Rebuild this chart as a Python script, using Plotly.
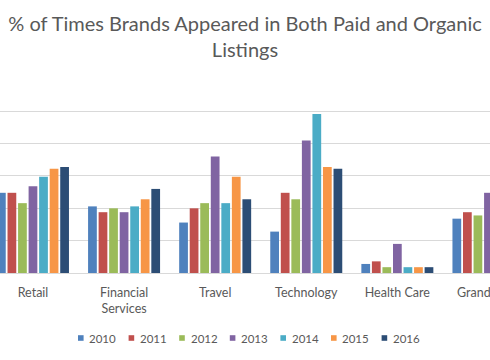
import plotly.graph_objects as go

categories = ["Retail", "Financial<br>Services", "Travel", "Technology", "Health Care", "Grand Total"]
years = ["2010", "2011", "2012", "2013", "2014", "2015", "2016"]

v2010 = [12.4, 10.3, 7.8, 6.4, 1.4, 8.4]
v2011 = [12.4, 9.4, 10.0, 12.4, 1.8, 9.4]
v2012 = [10.8, 10.0, 10.8, 11.4, 0.9, 8.9]
v2013 = [13.4, 9.4, 18.0, 20.5, 4.5, 12.4]
v2014 = [14.9, 10.3, 10.8, 24.6, 0.9, 11.5]
v2015 = [16.1, 11.4, 14.9, 16.4, 0.9, 12.0]
v2016 = [16.4, 13.0, 11.4, 16.1, 0.9, 12.4]

series = [v2010, v2011, v2012, v2013, v2014, v2015, v2016]
colors = ["#4F81BD", "#C0504D", "#9BBB59", "#8064A2", "#4BACC6", "#F79646", "#2C4D75"]

W, H = 490, 360
M_T, M_B = 78, 87
PLOT_H = H - M_T - M_B

fig = go.Figure()
for name, vals, col in zip(years, series, colors):
    fig.add_trace(go.Bar(x=categories, y=vals, name=name, showlegend=False,
                         marker=dict(color=col, line=dict(width=0))))

font = "Lato, 'Open Sans', sans-serif"

# Custom legend row (Excel-style: small square key right next to its label)
leg_y_px = 338
leg_first_px = 80.8
leg_pitch_px = 50.6
key_half = 2.8
annotations = []
shapes = []
for i, (name, col) in enumerate(zip(years, colors)):
    cx = leg_first_px + leg_pitch_px * i
    shapes.append(dict(type="rect", xref="paper", yref="paper",
                       x0=(cx - key_half) / W, x1=(cx + key_half) / W,
                       y0=(H - M_B - (leg_y_px + key_half)) / PLOT_H,
                       y1=(H - M_B - (leg_y_px - key_half)) / PLOT_H,
                       fillcolor=col, line=dict(width=0)))
    annotations.append(dict(text=name, xref="paper", yref="paper", showarrow=False,
                            x=(cx + 6.5) / W, xanchor="left",
                            y=(H - M_B - leg_y_px) / PLOT_H, yanchor="middle",
                            font=dict(family=font, size=11.5, color="#595959")))

fig.update_layout(
    width=W, height=H,
    margin=dict(l=0, r=0, t=M_T, b=M_B, autoexpand=False),
    paper_bgcolor="white", plot_bgcolor="white",
    barmode="group", bargap=0.19, bargroupgap=0.17,
    title=dict(text="% of Times Brands Appeared in Both Paid and Organic<br>Listings",
               x=0.5, xanchor="center", y=0.915, yanchor="top",
               font=dict(family=font, size=20, color="#595959")),
    font=dict(family=font, size=12.5, color="#595959"),
    xaxis=dict(range=[-0.362, 5.017], automargin=False, showgrid=False,
               showline=True, linecolor="#D9D9D9", linewidth=1,
               ticks="", ticklabelstandoff=8, tickfont=dict(size=12.5, color="#595959")),
    yaxis=dict(range=[0, 30.15], tickvals=[5, 10, 15, 20, 25, 30], showticklabels=False,
               automargin=False, showgrid=True, gridcolor="#D9D9D9", gridwidth=1,
               zeroline=False),
    showlegend=False,
    annotations=annotations,
    shapes=shapes,
)

fig.write_html("out.html", config={"displayModeBar": False},
               post_script="document.body.style.margin='0';")
